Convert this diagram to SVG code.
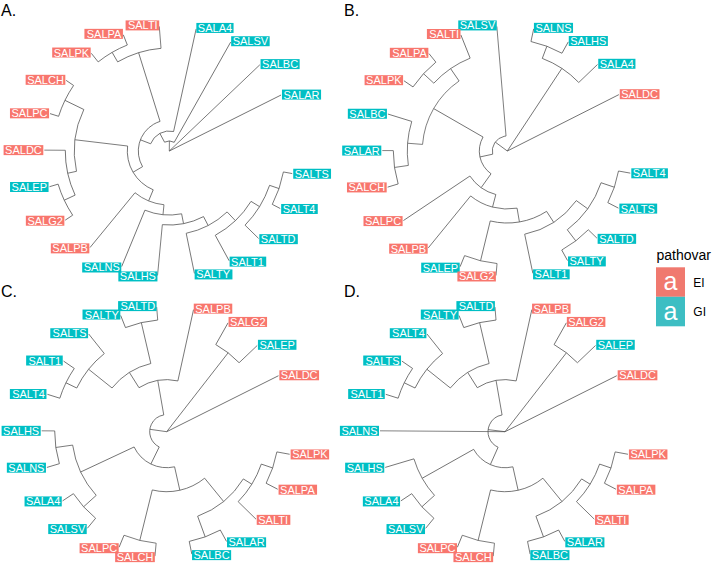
<svg xmlns="http://www.w3.org/2000/svg" width="714" height="566" viewBox="0 0 714 566">
<style>
.e line,.e circle{fill:none;stroke:#4d4d4d;stroke-width:0.7}
.lab text{font-family:"Liberation Sans",Arial,sans-serif;font-size:11px;fill:#fff}
.L text{text-anchor:end}
.ei rect{fill:#F8766D}
.gi rect{fill:#00BFC4}
.ttl{font-family:"Liberation Sans",Arial,sans-serif;font-size:16px;fill:#000}
.leg{font-family:"Liberation Sans",Arial,sans-serif;fill:#000}
</style>
<rect width="714" height="566" fill="#fff"/>
<text class="ttl" x="1" y="16">A.</text>
<text class="ttl" x="344" y="16">B.</text>
<text class="ttl" x="1" y="297">C.</text>
<text class="ttl" x="344" y="297">D.</text>

<g id="edges-A" class="e" transform="translate(169.3 151)">
<line x2="125" transform="rotate(-26.6)"/>
<line x2="125" transform="rotate(-43.6)"/>
<line x1="10" x2="125" transform="rotate(-60.6)"/>
<line x1="20" x2="125" transform="rotate(-77.6)"/>
<line x1="103" x2="125" transform="rotate(-94.6)"/>
<line x1="114" x2="125" transform="rotate(-111.6)"/>
<line x1="114" x2="125" transform="rotate(-128.6)"/>
<line x1="116" x2="125" transform="rotate(-145.6)"/>
<line x1="116" x2="125" transform="rotate(-162.6)"/>
<line x1="104" x2="125" transform="rotate(-179.6)"/>
<line x1="116" x2="125" transform="rotate(-196.6)"/>
<line x1="116" x2="125" transform="rotate(-213.6)"/>
<line x1="54" x2="125" transform="rotate(-230.6)"/>
<line x1="64" x2="125" transform="rotate(-247.6)"/>
<line x1="74" x2="125" transform="rotate(-264.6)"/>
<line x1="84" x2="125" transform="rotate(-281.6)"/>
<line x1="96" x2="125" transform="rotate(-298.6)"/>
<line x1="106" x2="125" transform="rotate(-315.6)"/>
<line x1="116" x2="125" transform="rotate(-332.6)"/>
<line x1="116" x2="125" transform="rotate(-349.6)"/>
<line x1="106" x2="116" transform="rotate(-341.1)"/>
<line x1="96" x2="106" transform="rotate(-328.35)"/>
<line x1="84" x2="96" transform="rotate(-313.5)"/>
<line x1="74" x2="84" transform="rotate(-297.55)"/>
<line x1="64" x2="74" transform="rotate(-281.1)"/>
<line x1="54" x2="64" transform="rotate(-264.35)"/>
<line x1="42" x2="54" transform="rotate(-247.5)"/>
<line x1="104" x2="116" transform="rotate(-205.1)"/>
<line x1="95" x2="104" transform="rotate(-192.35)"/>
<line x1="95" x2="116" transform="rotate(-154.1)"/>
<line x1="42" x2="95" transform="rotate(-173.2)"/>
<line x1="31" x2="42" transform="rotate(-210.35)"/>
<line x1="103" x2="114" transform="rotate(-120.1)"/>
<line x1="31" x2="103" transform="rotate(-107.35)"/>
<line x1="20" x2="31" transform="rotate(-158.85)"/>
<line x1="10" x2="20" transform="rotate(-118.2)"/>
<line x2="10" transform="rotate(-89.4)"/>
<circle r="116" pathLength="360" stroke-dasharray="17 360" transform="rotate(-349.6)"/>
<circle r="106" pathLength="360" stroke-dasharray="25.5 360" transform="rotate(-341.1)"/>
<circle r="96" pathLength="360" stroke-dasharray="29.75 360" transform="rotate(-328.35)"/>
<circle r="84" pathLength="360" stroke-dasharray="31.9 360" transform="rotate(-313.5)"/>
<circle r="74" pathLength="360" stroke-dasharray="32.95 360" transform="rotate(-297.55)"/>
<circle r="64" pathLength="360" stroke-dasharray="33.5 360" transform="rotate(-281.1)"/>
<circle r="54" pathLength="360" stroke-dasharray="33.75 360" transform="rotate(-264.35)"/>
<circle r="116" pathLength="360" stroke-dasharray="17 360" transform="rotate(-213.6)"/>
<circle r="104" pathLength="360" stroke-dasharray="25.5 360" transform="rotate(-205.1)"/>
<circle r="116" pathLength="360" stroke-dasharray="17 360" transform="rotate(-162.6)"/>
<circle r="95" pathLength="360" stroke-dasharray="38.25 360" transform="rotate(-192.35)"/>
<circle r="42" pathLength="360" stroke-dasharray="74.3 360" transform="rotate(-247.5)"/>
<circle r="114" pathLength="360" stroke-dasharray="17 360" transform="rotate(-128.6)"/>
<circle r="103" pathLength="360" stroke-dasharray="25.5 360" transform="rotate(-120.1)"/>
<circle r="31" pathLength="360" stroke-dasharray="103 360" transform="rotate(-210.35)"/>
<circle r="20" pathLength="360" stroke-dasharray="81.25 360" transform="rotate(-158.85)"/>
<circle r="10" pathLength="360" stroke-dasharray="57.6 360" transform="rotate(-118.2)"/>
</g>

<g id="edges-B" class="e" transform="translate(507.3 151)">
<line x2="125" transform="rotate(-26.8)"/>
<line x1="99" x2="125" transform="rotate(-43.8)"/>
<line x1="112" x2="125" transform="rotate(-60.8)"/>
<line x1="112" x2="125" transform="rotate(-77.8)"/>
<line x1="15" x2="125" transform="rotate(-94.8)"/>
<line x1="100" x2="125" transform="rotate(-111.8)"/>
<line x1="114" x2="125" transform="rotate(-128.8)"/>
<line x1="114" x2="125" transform="rotate(-145.8)"/>
<line x1="100" x2="125" transform="rotate(-162.8)"/>
<line x1="114" x2="125" transform="rotate(-179.8)"/>
<line x1="114" x2="125" transform="rotate(-196.8)"/>
<line x1="45" x2="125" transform="rotate(-213.8)"/>
<line x1="58" x2="125" transform="rotate(-230.8)"/>
<line x1="113" x2="125" transform="rotate(-247.8)"/>
<line x1="113" x2="125" transform="rotate(-264.8)"/>
<line x1="85" x2="125" transform="rotate(-281.8)"/>
<line x1="113" x2="125" transform="rotate(-298.8)"/>
<line x1="113" x2="125" transform="rotate(-315.8)"/>
<line x1="113" x2="125" transform="rotate(-332.8)"/>
<line x1="113" x2="125" transform="rotate(-349.8)"/>
<line x1="99" x2="112" transform="rotate(-69.3)"/>
<line x2="99" transform="rotate(-56.55)"/>
<line x1="100" x2="114" transform="rotate(-137.3)"/>
<line x1="85" x2="100" transform="rotate(-124.55)"/>
<line x1="100" x2="114" transform="rotate(-188.3)"/>
<line x1="85" x2="100" transform="rotate(-175.55)"/>
<line x1="28" x2="85" transform="rotate(-150.05)"/>
<line x1="99" x2="113" transform="rotate(-341.3)"/>
<line x1="99" x2="113" transform="rotate(-307.3)"/>
<line x1="85" x2="99" transform="rotate(-324.3)"/>
<line x1="72" x2="85" transform="rotate(-303.05)"/>
<line x1="72" x2="113" transform="rotate(-256.3)"/>
<line x1="58" x2="72" transform="rotate(-279.7)"/>
<line x1="45" x2="58" transform="rotate(-255.25)"/>
<line x1="28" x2="45" transform="rotate(-234.5)"/>
<line x1="15" x2="28" transform="rotate(-192.3)"/>
<line x2="15" transform="rotate(-143.55)"/>
<circle r="112" pathLength="360" stroke-dasharray="17 360" transform="rotate(-77.8)"/>
<circle r="99" pathLength="360" stroke-dasharray="25.5 360" transform="rotate(-69.3)"/>
<circle r="114" pathLength="360" stroke-dasharray="17 360" transform="rotate(-145.8)"/>
<circle r="100" pathLength="360" stroke-dasharray="25.5 360" transform="rotate(-137.3)"/>
<circle r="114" pathLength="360" stroke-dasharray="17 360" transform="rotate(-196.8)"/>
<circle r="100" pathLength="360" stroke-dasharray="25.5 360" transform="rotate(-188.3)"/>
<circle r="85" pathLength="360" stroke-dasharray="51 360" transform="rotate(-175.55)"/>
<circle r="113" pathLength="360" stroke-dasharray="17 360" transform="rotate(-349.8)"/>
<circle r="113" pathLength="360" stroke-dasharray="17 360" transform="rotate(-315.8)"/>
<circle r="99" pathLength="360" stroke-dasharray="34 360" transform="rotate(-341.3)"/>
<circle r="85" pathLength="360" stroke-dasharray="42.5 360" transform="rotate(-324.3)"/>
<circle r="113" pathLength="360" stroke-dasharray="17 360" transform="rotate(-264.8)"/>
<circle r="72" pathLength="360" stroke-dasharray="46.75 360" transform="rotate(-303.05)"/>
<circle r="58" pathLength="360" stroke-dasharray="48.9 360" transform="rotate(-279.7)"/>
<circle r="45" pathLength="360" stroke-dasharray="41.45 360" transform="rotate(-255.25)"/>
<circle r="28" pathLength="360" stroke-dasharray="84.45 360" transform="rotate(-234.5)"/>
<circle r="15" pathLength="360" stroke-dasharray="97.5 360" transform="rotate(-192.3)"/>
</g>

<g id="edges-C" class="e" transform="translate(166.7 431.7)">
<line x2="125" transform="rotate(-26.6)"/>
<line x2="100" transform="rotate(-52.1)"/>
<circle r="100" pathLength="360" stroke-dasharray="17 360" transform="rotate(-60.6)"/>
<line x1="100" x2="125" transform="rotate(-43.6)"/>
<line x1="100" x2="125" transform="rotate(-60.6)"/>
<line x2="17" transform="rotate(-171.9)"/>
<circle r="17" pathLength="360" stroke-dasharray="144 360" transform="rotate(-243.9)"/>
<line x1="17" x2="52" transform="rotate(-99.9)"/>
<circle r="52" pathLength="360" stroke-dasharray="44.6 360" transform="rotate(-122.2)"/>
<line x1="52" x2="125" transform="rotate(-77.6)"/>
<line x1="52" x2="70" transform="rotate(-122.2)"/>
<circle r="70" pathLength="360" stroke-dasharray="38.25 360" transform="rotate(-141.35)"/>
<line x1="70" x2="112" transform="rotate(-103.1)"/>
<circle r="112" pathLength="360" stroke-dasharray="17 360" transform="rotate(-111.6)"/>
<line x1="112" x2="125" transform="rotate(-94.6)"/>
<line x1="112" x2="125" transform="rotate(-111.6)"/>
<line x1="70" x2="100" transform="rotate(-141.35)"/>
<circle r="100" pathLength="360" stroke-dasharray="25.5 360" transform="rotate(-154.1)"/>
<line x1="100" x2="125" transform="rotate(-128.6)"/>
<line x1="100" x2="112" transform="rotate(-154.1)"/>
<circle r="112" pathLength="360" stroke-dasharray="17 360" transform="rotate(-162.6)"/>
<line x1="112" x2="125" transform="rotate(-145.6)"/>
<line x1="112" x2="125" transform="rotate(-162.6)"/>
<line x1="17" x2="36" transform="rotate(-243.9)"/>
<circle r="36" pathLength="360" stroke-dasharray="77.55 360" transform="rotate(-282.65)"/>
<line x1="36" x2="95" transform="rotate(-205.1)"/>
<circle r="95" pathLength="360" stroke-dasharray="34 360" transform="rotate(-222.1)"/>
<line x1="95" x2="112" transform="rotate(-188.1)"/>
<circle r="112" pathLength="360" stroke-dasharray="17 360" transform="rotate(-196.6)"/>
<line x1="112" x2="125" transform="rotate(-179.6)"/>
<line x1="112" x2="125" transform="rotate(-196.6)"/>
<line x1="95" x2="112" transform="rotate(-222.1)"/>
<circle r="112" pathLength="360" stroke-dasharray="17 360" transform="rotate(-230.6)"/>
<line x1="112" x2="125" transform="rotate(-213.6)"/>
<line x1="112" x2="125" transform="rotate(-230.6)"/>
<line x1="36" x2="60" transform="rotate(-282.65)"/>
<circle r="60" pathLength="360" stroke-dasharray="53.1 360" transform="rotate(-309.2)"/>
<line x1="60" x2="112" transform="rotate(-256.1)"/>
<circle r="112" pathLength="360" stroke-dasharray="17 360" transform="rotate(-264.6)"/>
<line x1="112" x2="125" transform="rotate(-247.6)"/>
<line x1="112" x2="125" transform="rotate(-264.6)"/>
<line x1="60" x2="90" transform="rotate(-309.2)"/>
<circle r="90" pathLength="360" stroke-dasharray="38.25 360" transform="rotate(-328.35)"/>
<line x1="90" x2="112" transform="rotate(-290.1)"/>
<circle r="112" pathLength="360" stroke-dasharray="17 360" transform="rotate(-298.6)"/>
<line x1="112" x2="125" transform="rotate(-281.6)"/>
<line x1="112" x2="125" transform="rotate(-298.6)"/>
<line x1="90" x2="100" transform="rotate(-328.35)"/>
<circle r="100" pathLength="360" stroke-dasharray="25.5 360" transform="rotate(-341.1)"/>
<line x1="100" x2="125" transform="rotate(-315.6)"/>
<line x1="100" x2="112" transform="rotate(-341.1)"/>
<circle r="112" pathLength="360" stroke-dasharray="17 360" transform="rotate(-349.6)"/>
<line x1="112" x2="125" transform="rotate(-332.6)"/>
<line x1="112" x2="125" transform="rotate(-349.6)"/>
</g>

<g id="edges-D" class="e" transform="translate(505 431.7)">
<line x2="125" transform="rotate(-26.6)"/>
<line x2="100" transform="rotate(-52.1)"/>
<circle r="100" pathLength="360" stroke-dasharray="17 360" transform="rotate(-60.6)"/>
<line x1="100" x2="125" transform="rotate(-43.6)"/>
<line x1="100" x2="125" transform="rotate(-60.6)"/>
<line x2="125" transform="rotate(-179.6)"/>
<line x2="17" transform="rotate(-172.95)"/>
<circle r="17" pathLength="360" stroke-dasharray="146.1 360" transform="rotate(-246)"/>
<line x1="17" x2="52" transform="rotate(-99.9)"/>
<circle r="52" pathLength="360" stroke-dasharray="44.6 360" transform="rotate(-122.2)"/>
<line x1="52" x2="125" transform="rotate(-77.6)"/>
<line x1="52" x2="70" transform="rotate(-122.2)"/>
<circle r="70" pathLength="360" stroke-dasharray="38.25 360" transform="rotate(-141.35)"/>
<line x1="70" x2="112" transform="rotate(-103.1)"/>
<circle r="112" pathLength="360" stroke-dasharray="17 360" transform="rotate(-111.6)"/>
<line x1="112" x2="125" transform="rotate(-94.6)"/>
<line x1="112" x2="125" transform="rotate(-111.6)"/>
<line x1="70" x2="100" transform="rotate(-141.35)"/>
<circle r="100" pathLength="360" stroke-dasharray="25.5 360" transform="rotate(-154.1)"/>
<line x1="100" x2="125" transform="rotate(-128.6)"/>
<line x1="100" x2="112" transform="rotate(-154.1)"/>
<circle r="112" pathLength="360" stroke-dasharray="17 360" transform="rotate(-162.6)"/>
<line x1="112" x2="125" transform="rotate(-145.6)"/>
<line x1="112" x2="125" transform="rotate(-162.6)"/>
<line x1="17" x2="36" transform="rotate(-246)"/>
<circle r="36" pathLength="360" stroke-dasharray="73.3 360" transform="rotate(-282.65)"/>
<line x1="36" x2="95" transform="rotate(-209.35)"/>
<circle r="95" pathLength="360" stroke-dasharray="25.5 360" transform="rotate(-222.1)"/>
<line x1="95" x2="125" transform="rotate(-196.6)"/>
<line x1="95" x2="112" transform="rotate(-222.1)"/>
<circle r="112" pathLength="360" stroke-dasharray="17 360" transform="rotate(-230.6)"/>
<line x1="112" x2="125" transform="rotate(-213.6)"/>
<line x1="112" x2="125" transform="rotate(-230.6)"/>
<line x1="36" x2="60" transform="rotate(-282.65)"/>
<circle r="60" pathLength="360" stroke-dasharray="53.1 360" transform="rotate(-309.2)"/>
<line x1="60" x2="112" transform="rotate(-256.1)"/>
<circle r="112" pathLength="360" stroke-dasharray="17 360" transform="rotate(-264.6)"/>
<line x1="112" x2="125" transform="rotate(-247.6)"/>
<line x1="112" x2="125" transform="rotate(-264.6)"/>
<line x1="60" x2="90" transform="rotate(-309.2)"/>
<circle r="90" pathLength="360" stroke-dasharray="38.25 360" transform="rotate(-328.35)"/>
<line x1="90" x2="112" transform="rotate(-290.1)"/>
<circle r="112" pathLength="360" stroke-dasharray="17 360" transform="rotate(-298.6)"/>
<line x1="112" x2="125" transform="rotate(-281.6)"/>
<line x1="112" x2="125" transform="rotate(-298.6)"/>
<line x1="90" x2="100" transform="rotate(-328.35)"/>
<circle r="100" pathLength="360" stroke-dasharray="25.5 360" transform="rotate(-341.1)"/>
<line x1="100" x2="125" transform="rotate(-315.6)"/>
<line x1="100" x2="112" transform="rotate(-341.1)"/>
<circle r="112" pathLength="360" stroke-dasharray="17 360" transform="rotate(-349.6)"/>
<line x1="112" x2="125" transform="rotate(-332.6)"/>
<line x1="112" x2="125" transform="rotate(-349.6)"/>
</g>

<g id="A-SALAR" class="lab gi" transform="translate(169.3 151) rotate(-26.6) translate(126 0) rotate(26.6)"><rect y="-5" width="39.1" height="10"/><text x="1.5" y="4">SALAR</text></g>
<g id="A-SALBC" class="lab gi" transform="translate(169.3 151) rotate(-43.6) translate(126 0) rotate(43.6)"><rect y="-5" width="39.1" height="10"/><text x="1.5" y="4">SALBC</text></g>
<g id="A-SALSV" class="lab gi" transform="translate(169.3 151) rotate(-60.6) translate(126 0) rotate(60.6)"><rect y="-5" width="38.5" height="10"/><text x="1.5" y="4">SALSV</text></g>
<g id="A-SALA4" class="lab gi" transform="translate(169.3 151) rotate(-77.6) translate(126 0) rotate(77.6)"><rect y="-5" width="37.2" height="10"/><text x="1.5" y="4">SALA4</text></g>
<g id="A-SALTI" class="lab ei L" transform="translate(169.3 151) rotate(-94.6) translate(126 0) rotate(94.6)"><rect x="-33.6" y="-5" width="33.6" height="10"/><text x="-1.5" y="4">SALTI</text></g>
<g id="A-SALPA" class="lab ei L" transform="translate(169.3 151) rotate(-111.6) translate(126 0) rotate(111.6)"><rect x="-38.5" y="-5" width="38.5" height="10"/><text x="-1.5" y="4">SALPA</text></g>
<g id="A-SALPK" class="lab ei L" transform="translate(169.3 151) rotate(-128.6) translate(126 0) rotate(128.6)"><rect x="-38.5" y="-5" width="38.5" height="10"/><text x="-1.5" y="4">SALPK</text></g>
<g id="A-SALCH" class="lab ei L" transform="translate(169.3 151) rotate(-145.6) translate(126 0) rotate(145.6)"><rect x="-39.7" y="-5" width="39.7" height="10"/><text x="-1.5" y="4">SALCH</text></g>
<g id="A-SALPC" class="lab ei L" transform="translate(169.3 151) rotate(-162.6) translate(126 0) rotate(162.6)"><rect x="-39.1" y="-5" width="39.1" height="10"/><text x="-1.5" y="4">SALPC</text></g>
<g id="A-SALDC" class="lab ei L" transform="translate(169.3 151) rotate(-179.6) translate(126 0) rotate(179.6)"><rect x="-39.7" y="-5" width="39.7" height="10"/><text x="-1.5" y="4">SALDC</text></g>
<g id="A-SALEP" class="lab gi L" transform="translate(169.3 151) rotate(-196.6) translate(126 0) rotate(196.6)"><rect x="-38.5" y="-5" width="38.5" height="10"/><text x="-1.5" y="4">SALEP</text></g>
<g id="A-SALG2" class="lab ei L" transform="translate(169.3 151) rotate(-213.6) translate(126 0) rotate(213.6)"><rect x="-38.5" y="-5" width="38.5" height="10"/><text x="-1.5" y="4">SALG2</text></g>
<g id="A-SALPB" class="lab ei L" transform="translate(169.3 151) rotate(-230.6) translate(126 0) rotate(230.6)"><rect x="-38.5" y="-5" width="38.5" height="10"/><text x="-1.5" y="4">SALPB</text></g>
<g id="A-SALNS" class="lab gi L" transform="translate(169.3 151) rotate(-247.6) translate(126 0) rotate(247.6)"><rect x="-39.1" y="-5" width="39.1" height="10"/><text x="-1.5" y="4">SALNS</text></g>
<g id="A-SALHS" class="lab gi L" transform="translate(169.3 151) rotate(-264.6) translate(126 0) rotate(264.6)"><rect x="-39.1" y="-5" width="39.1" height="10"/><text x="-1.5" y="4">SALHS</text></g>
<g id="A-SALTY" class="lab gi" transform="translate(169.3 151) rotate(-281.6) translate(126 0) rotate(281.6)"><rect y="-5" width="37.8" height="10"/><text x="1.5" y="4">SALTY</text></g>
<g id="A-SALT1" class="lab gi" transform="translate(169.3 151) rotate(-298.6) translate(126 0) rotate(298.6)"><rect y="-5" width="36.6" height="10"/><text x="1.5" y="4">SALT1</text></g>
<g id="A-SALTD" class="lab gi" transform="translate(169.3 151) rotate(-315.6) translate(126 0) rotate(315.6)"><rect y="-5" width="38.5" height="10"/><text x="1.5" y="4">SALTD</text></g>
<g id="A-SALT4" class="lab gi" transform="translate(169.3 151) rotate(-332.6) translate(126 0) rotate(332.6)"><rect y="-5" width="36.6" height="10"/><text x="1.5" y="4">SALT4</text></g>
<g id="A-SALTS" class="lab gi" transform="translate(169.3 151) rotate(-349.6) translate(126 0) rotate(349.6)"><rect y="-5" width="37.8" height="10"/><text x="1.5" y="4">SALTS</text></g>

<g id="B-SALDC" class="lab ei" transform="translate(507.3 151) rotate(-26.8) translate(126 0) rotate(26.8)"><rect y="-5" width="39.7" height="10"/><text x="1.5" y="4">SALDC</text></g>
<g id="B-SALA4" class="lab gi" transform="translate(507.3 151) rotate(-43.8) translate(126 0) rotate(43.8)"><rect y="-5" width="37.2" height="10"/><text x="1.5" y="4">SALA4</text></g>
<g id="B-SALHS" class="lab gi" transform="translate(507.3 151) rotate(-60.8) translate(126 0) rotate(60.8)"><rect y="-5" width="39.1" height="10"/><text x="1.5" y="4">SALHS</text></g>
<g id="B-SALNS" class="lab gi" transform="translate(507.3 151) rotate(-77.8) translate(126 0) rotate(77.8)"><rect y="-5" width="39.1" height="10"/><text x="1.5" y="4">SALNS</text></g>
<g id="B-SALSV" class="lab gi L" transform="translate(507.3 151) rotate(-94.8) translate(126 0) rotate(94.8)"><rect x="-38.5" y="-5" width="38.5" height="10"/><text x="-1.5" y="4">SALSV</text></g>
<g id="B-SALTI" class="lab ei L" transform="translate(507.3 151) rotate(-111.8) translate(126 0) rotate(111.8)"><rect x="-33.6" y="-5" width="33.6" height="10"/><text x="-1.5" y="4">SALTI</text></g>
<g id="B-SALPA" class="lab ei L" transform="translate(507.3 151) rotate(-128.8) translate(126 0) rotate(128.8)"><rect x="-38.5" y="-5" width="38.5" height="10"/><text x="-1.5" y="4">SALPA</text></g>
<g id="B-SALPK" class="lab ei L" transform="translate(507.3 151) rotate(-145.8) translate(126 0) rotate(145.8)"><rect x="-38.5" y="-5" width="38.5" height="10"/><text x="-1.5" y="4">SALPK</text></g>
<g id="B-SALBC" class="lab gi L" transform="translate(507.3 151) rotate(-162.8) translate(126 0) rotate(162.8)"><rect x="-39.1" y="-5" width="39.1" height="10"/><text x="-1.5" y="4">SALBC</text></g>
<g id="B-SALAR" class="lab gi L" transform="translate(507.3 151) rotate(-179.8) translate(126 0) rotate(179.8)"><rect x="-39.1" y="-5" width="39.1" height="10"/><text x="-1.5" y="4">SALAR</text></g>
<g id="B-SALCH" class="lab ei L" transform="translate(507.3 151) rotate(-196.8) translate(126 0) rotate(196.8)"><rect x="-39.7" y="-5" width="39.7" height="10"/><text x="-1.5" y="4">SALCH</text></g>
<g id="B-SALPC" class="lab ei L" transform="translate(507.3 151) rotate(-213.8) translate(126 0) rotate(213.8)"><rect x="-39.1" y="-5" width="39.1" height="10"/><text x="-1.5" y="4">SALPC</text></g>
<g id="B-SALPB" class="lab ei L" transform="translate(507.3 151) rotate(-230.8) translate(126 0) rotate(230.8)"><rect x="-38.5" y="-5" width="38.5" height="10"/><text x="-1.5" y="4">SALPB</text></g>
<g id="B-SALEP" class="lab gi L" transform="translate(507.3 151) rotate(-247.8) translate(126 0) rotate(247.8)"><rect x="-38.5" y="-5" width="38.5" height="10"/><text x="-1.5" y="4">SALEP</text></g>
<g id="B-SALG2" class="lab ei L" transform="translate(507.3 151) rotate(-264.8) translate(126 0) rotate(264.8)"><rect x="-38.5" y="-5" width="38.5" height="10"/><text x="-1.5" y="4">SALG2</text></g>
<g id="B-SALT1" class="lab gi" transform="translate(507.3 151) rotate(-281.8) translate(126 0) rotate(281.8)"><rect y="-5" width="36.6" height="10"/><text x="1.5" y="4">SALT1</text></g>
<g id="B-SALTY" class="lab gi" transform="translate(507.3 151) rotate(-298.8) translate(126 0) rotate(298.8)"><rect y="-5" width="37.8" height="10"/><text x="1.5" y="4">SALTY</text></g>
<g id="B-SALTD" class="lab gi" transform="translate(507.3 151) rotate(-315.8) translate(126 0) rotate(315.8)"><rect y="-5" width="38.5" height="10"/><text x="1.5" y="4">SALTD</text></g>
<g id="B-SALTS" class="lab gi" transform="translate(507.3 151) rotate(-332.8) translate(126 0) rotate(332.8)"><rect y="-5" width="37.8" height="10"/><text x="1.5" y="4">SALTS</text></g>
<g id="B-SALT4" class="lab gi" transform="translate(507.3 151) rotate(-349.8) translate(126 0) rotate(349.8)"><rect y="-5" width="36.6" height="10"/><text x="1.5" y="4">SALT4</text></g>

<g id="C-SALDC" class="lab ei" transform="translate(166.7 431.7) rotate(-26.6) translate(126 0) rotate(26.6)"><rect y="-5" width="39.7" height="10"/><text x="1.5" y="4">SALDC</text></g>
<g id="C-SALEP" class="lab gi" transform="translate(166.7 431.7) rotate(-43.6) translate(126 0) rotate(43.6)"><rect y="-5" width="38.5" height="10"/><text x="1.5" y="4">SALEP</text></g>
<g id="C-SALG2" class="lab ei" transform="translate(166.7 431.7) rotate(-60.6) translate(126 0) rotate(60.6)"><rect y="-5" width="38.5" height="10"/><text x="1.5" y="4">SALG2</text></g>
<g id="C-SALPB" class="lab ei" transform="translate(166.7 431.7) rotate(-77.6) translate(126 0) rotate(77.6)"><rect y="-5" width="38.5" height="10"/><text x="1.5" y="4">SALPB</text></g>
<g id="C-SALTD" class="lab gi L" transform="translate(166.7 431.7) rotate(-94.6) translate(126 0) rotate(94.6)"><rect x="-38.5" y="-5" width="38.5" height="10"/><text x="-1.5" y="4">SALTD</text></g>
<g id="C-SALTY" class="lab gi L" transform="translate(166.7 431.7) rotate(-111.6) translate(126 0) rotate(111.6)"><rect x="-37.8" y="-5" width="37.8" height="10"/><text x="-1.5" y="4">SALTY</text></g>
<g id="C-SALTS" class="lab gi L" transform="translate(166.7 431.7) rotate(-128.6) translate(126 0) rotate(128.6)"><rect x="-37.8" y="-5" width="37.8" height="10"/><text x="-1.5" y="4">SALTS</text></g>
<g id="C-SALT1" class="lab gi L" transform="translate(166.7 431.7) rotate(-145.6) translate(126 0) rotate(145.6)"><rect x="-36.6" y="-5" width="36.6" height="10"/><text x="-1.5" y="4">SALT1</text></g>
<g id="C-SALT4" class="lab gi L" transform="translate(166.7 431.7) rotate(-162.6) translate(126 0) rotate(162.6)"><rect x="-36.6" y="-5" width="36.6" height="10"/><text x="-1.5" y="4">SALT4</text></g>
<g id="C-SALHS" class="lab gi L" transform="translate(166.7 431.7) rotate(-179.6) translate(126 0) rotate(179.6)"><rect x="-39.1" y="-5" width="39.1" height="10"/><text x="-1.5" y="4">SALHS</text></g>
<g id="C-SALNS" class="lab gi L" transform="translate(166.7 431.7) rotate(-196.6) translate(126 0) rotate(196.6)"><rect x="-39.1" y="-5" width="39.1" height="10"/><text x="-1.5" y="4">SALNS</text></g>
<g id="C-SALA4" class="lab gi L" transform="translate(166.7 431.7) rotate(-213.6) translate(126 0) rotate(213.6)"><rect x="-37.2" y="-5" width="37.2" height="10"/><text x="-1.5" y="4">SALA4</text></g>
<g id="C-SALSV" class="lab gi L" transform="translate(166.7 431.7) rotate(-230.6) translate(126 0) rotate(230.6)"><rect x="-38.5" y="-5" width="38.5" height="10"/><text x="-1.5" y="4">SALSV</text></g>
<g id="C-SALPC" class="lab ei L" transform="translate(166.7 431.7) rotate(-247.6) translate(126 0) rotate(247.6)"><rect x="-39.1" y="-5" width="39.1" height="10"/><text x="-1.5" y="4">SALPC</text></g>
<g id="C-SALCH" class="lab ei L" transform="translate(166.7 431.7) rotate(-264.6) translate(126 0) rotate(264.6)"><rect x="-39.7" y="-5" width="39.7" height="10"/><text x="-1.5" y="4">SALCH</text></g>
<g id="C-SALBC" class="lab gi" transform="translate(166.7 431.7) rotate(-281.6) translate(126 0) rotate(281.6)"><rect y="-5" width="39.1" height="10"/><text x="1.5" y="4">SALBC</text></g>
<g id="C-SALAR" class="lab gi" transform="translate(166.7 431.7) rotate(-298.6) translate(126 0) rotate(298.6)"><rect y="-5" width="39.1" height="10"/><text x="1.5" y="4">SALAR</text></g>
<g id="C-SALTI" class="lab ei" transform="translate(166.7 431.7) rotate(-315.6) translate(126 0) rotate(315.6)"><rect y="-5" width="33.6" height="10"/><text x="1.5" y="4">SALTI</text></g>
<g id="C-SALPA" class="lab ei" transform="translate(166.7 431.7) rotate(-332.6) translate(126 0) rotate(332.6)"><rect y="-5" width="38.5" height="10"/><text x="1.5" y="4">SALPA</text></g>
<g id="C-SALPK" class="lab ei" transform="translate(166.7 431.7) rotate(-349.6) translate(126 0) rotate(349.6)"><rect y="-5" width="38.5" height="10"/><text x="1.5" y="4">SALPK</text></g>

<g id="D-SALDC" class="lab ei" transform="translate(505 431.7) rotate(-26.6) translate(126 0) rotate(26.6)"><rect y="-5" width="39.7" height="10"/><text x="1.5" y="4">SALDC</text></g>
<g id="D-SALEP" class="lab gi" transform="translate(505 431.7) rotate(-43.6) translate(126 0) rotate(43.6)"><rect y="-5" width="38.5" height="10"/><text x="1.5" y="4">SALEP</text></g>
<g id="D-SALG2" class="lab ei" transform="translate(505 431.7) rotate(-60.6) translate(126 0) rotate(60.6)"><rect y="-5" width="38.5" height="10"/><text x="1.5" y="4">SALG2</text></g>
<g id="D-SALPB" class="lab ei" transform="translate(505 431.7) rotate(-77.6) translate(126 0) rotate(77.6)"><rect y="-5" width="38.5" height="10"/><text x="1.5" y="4">SALPB</text></g>
<g id="D-SALTD" class="lab gi L" transform="translate(505 431.7) rotate(-94.6) translate(126 0) rotate(94.6)"><rect x="-38.5" y="-5" width="38.5" height="10"/><text x="-1.5" y="4">SALTD</text></g>
<g id="D-SALTY" class="lab gi L" transform="translate(505 431.7) rotate(-111.6) translate(126 0) rotate(111.6)"><rect x="-37.8" y="-5" width="37.8" height="10"/><text x="-1.5" y="4">SALTY</text></g>
<g id="D-SALT4" class="lab gi L" transform="translate(505 431.7) rotate(-128.6) translate(126 0) rotate(128.6)"><rect x="-36.6" y="-5" width="36.6" height="10"/><text x="-1.5" y="4">SALT4</text></g>
<g id="D-SALTS" class="lab gi L" transform="translate(505 431.7) rotate(-145.6) translate(126 0) rotate(145.6)"><rect x="-37.8" y="-5" width="37.8" height="10"/><text x="-1.5" y="4">SALTS</text></g>
<g id="D-SALT1" class="lab gi L" transform="translate(505 431.7) rotate(-162.6) translate(126 0) rotate(162.6)"><rect x="-36.6" y="-5" width="36.6" height="10"/><text x="-1.5" y="4">SALT1</text></g>
<g id="D-SALNS" class="lab gi L" transform="translate(505 431.7) rotate(-179.6) translate(126 0) rotate(179.6)"><rect x="-39.1" y="-5" width="39.1" height="10"/><text x="-1.5" y="4">SALNS</text></g>
<g id="D-SALHS" class="lab gi L" transform="translate(505 431.7) rotate(-196.6) translate(126 0) rotate(196.6)"><rect x="-39.1" y="-5" width="39.1" height="10"/><text x="-1.5" y="4">SALHS</text></g>
<g id="D-SALA4" class="lab gi L" transform="translate(505 431.7) rotate(-213.6) translate(126 0) rotate(213.6)"><rect x="-37.2" y="-5" width="37.2" height="10"/><text x="-1.5" y="4">SALA4</text></g>
<g id="D-SALSV" class="lab gi L" transform="translate(505 431.7) rotate(-230.6) translate(126 0) rotate(230.6)"><rect x="-38.5" y="-5" width="38.5" height="10"/><text x="-1.5" y="4">SALSV</text></g>
<g id="D-SALPC" class="lab ei L" transform="translate(505 431.7) rotate(-247.6) translate(126 0) rotate(247.6)"><rect x="-39.1" y="-5" width="39.1" height="10"/><text x="-1.5" y="4">SALPC</text></g>
<g id="D-SALCH" class="lab ei L" transform="translate(505 431.7) rotate(-264.6) translate(126 0) rotate(264.6)"><rect x="-39.7" y="-5" width="39.7" height="10"/><text x="-1.5" y="4">SALCH</text></g>
<g id="D-SALBC" class="lab gi" transform="translate(505 431.7) rotate(-281.6) translate(126 0) rotate(281.6)"><rect y="-5" width="39.1" height="10"/><text x="1.5" y="4">SALBC</text></g>
<g id="D-SALAR" class="lab gi" transform="translate(505 431.7) rotate(-298.6) translate(126 0) rotate(298.6)"><rect y="-5" width="39.1" height="10"/><text x="1.5" y="4">SALAR</text></g>
<g id="D-SALTI" class="lab ei" transform="translate(505 431.7) rotate(-315.6) translate(126 0) rotate(315.6)"><rect y="-5" width="33.6" height="10"/><text x="1.5" y="4">SALTI</text></g>
<g id="D-SALPA" class="lab ei" transform="translate(505 431.7) rotate(-332.6) translate(126 0) rotate(332.6)"><rect y="-5" width="38.5" height="10"/><text x="1.5" y="4">SALPA</text></g>
<g id="D-SALPK" class="lab ei" transform="translate(505 431.7) rotate(-349.6) translate(126 0) rotate(349.6)"><rect y="-5" width="38.5" height="10"/><text x="1.5" y="4">SALPK</text></g>

<g id="legend">
<text class="leg" x="656.5" y="259.5" font-size="14">pathovar</text>
<rect x="656" y="267.3" width="29" height="29.5" fill="#F0796F"/>
<rect x="656" y="296.8" width="29" height="29.5" fill="#3DBEC3"/>
<text class="leg" x="670.5" y="290" font-size="25" text-anchor="middle" style="fill:#fff">a</text>
<text class="leg" x="670.5" y="319.5" font-size="25" text-anchor="middle" style="fill:#fff">a</text>
<text class="leg" x="693.3" y="287" font-size="12">EI</text>
<text class="leg" x="693.3" y="315.5" font-size="12">GI</text>
</g>
</svg>
